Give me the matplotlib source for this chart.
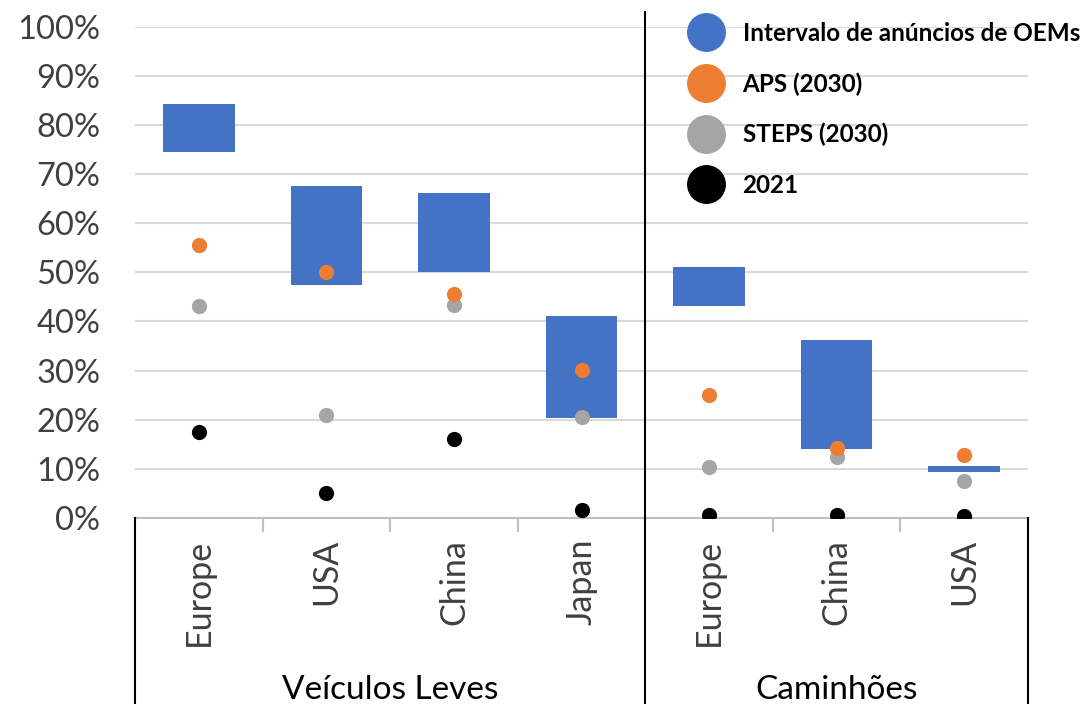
import matplotlib
matplotlib.use("Agg")
import matplotlib.pyplot as plt
from matplotlib.lines import Line2D
import numpy as np

plt.rcParams['font.family'] = ['Lato', 'DejaVu Sans']

# dados
categories = ['Europe', 'USA', 'China', 'Japan', 'Europe', 'China', 'USA']
groups = ['Veículos Leves', 'Caminhões']
group_sizes = [4, 3]
oem_low = [74.5, 47.4, 50.1, 20.3, 43.2, 14.0, 9.4]
oem_high = [84.3, 67.6, 66.2, 41.1, 51.0, 36.3, 10.6]
aps_2030 = [55.6, 50.1, 45.6, 30.1, 25.0, 14.2, 12.8]
steps_2030 = [43.1, 21.0, 43.3, 20.6, 10.3, 12.4, 7.5]
y2021 = [17.6, 5.0, 16.0, 1.6, 0.7, 0.7, 0.4]
yticks = [0, 10, 20, 30, 40, 50, 60, 70, 80, 90, 100]

c_blue = '#4472c4'
c_orange = '#ed7d31'
c_gray = '#a5a5a5'
c_black = '#000000'

fig = plt.figure(figsize=(10.91, 7.04), dpi=100)
ax = fig.add_axes([135/1091, 1 - 518/704, 893/1091, (518 - 26.7)/704])

x = np.arange(len(categories))
low = np.array(oem_low)
high = np.array(oem_high)
ax.bar(x, high - low, bottom=low, width=0.56, color=c_blue, zorder=2)
ax.scatter(x, y2021, s=120, color=c_black, zorder=3, linewidths=0)
ax.scatter(x, steps_2030, s=120, color=c_gray, zorder=4, linewidths=0)
ax.scatter(x, aps_2030, s=120, color=c_orange, zorder=5, linewidths=0)

ax.set_xlim(-0.5, len(categories) - 0.5)
ax.set_ylim(0, 100)
ax.set_yticks(yticks)
ax.set_yticklabels(['{}%'.format(v) for v in yticks])
ax.yaxis.grid(True, color='#d9d9d9', linewidth=1.5, zorder=0)
ax.set_axisbelow(True)
for s in ['top', 'right', 'left']:
    ax.spines[s].set_visible(False)
ax.spines['bottom'].set_color('#bfbfbf')
ax.spines['bottom'].set_linewidth(1.5)
ax.spines['bottom'].set_zorder(1)

ax.tick_params(axis='y', length=0, pad=25, labelsize=23.5, labelcolor='#404040')
ax.set_xticks(x)
ax.set_xticklabels(categories, rotation=90, va='top', ha='center')
ax.tick_params(axis='x', which='major', length=0, pad=15, labelsize=24.5, labelcolor='#404040')
ax.set_xticks([0.5, 1.5, 2.5, 4.5, 5.5], minor=True)
ax.tick_params(axis='x', which='minor', length=10, width=1.5, color='#bfbfbf', direction='out')

# linhas verticais dos grupos
trans = ax.get_xaxis_transform()
y_bot = -(704 - 518) / (518 - 26.7)
y_top = (518 - 12) / (518 - 26.7)
ax.plot([-0.5, -0.5], [0, y_bot], transform=trans, color='black', lw=1.5, clip_on=False)
ax.plot([6.5, 6.5], [0, y_bot], transform=trans, color='black', lw=1.5, clip_on=False)
ax.plot([3.5, 3.5], [y_top, y_bot], transform=trans, color='black', lw=1.5, clip_on=False, zorder=6)

start = -0.5
for g, n in zip(groups, group_sizes):
    ax.text(start + n / 2, -(690 - 518) / (518 - 26.7), g, transform=trans,
            ha='center', va='center', fontsize=24, color='black')
    start += n

handles = [
    Line2D([], [], marker='o', ls='', color=c_blue, markersize=27),
    Line2D([], [], marker='o', ls='', color=c_orange, markersize=27),
    Line2D([], [], marker='o', ls='', color=c_gray, markersize=27),
    Line2D([], [], marker='o', ls='', color=c_black, markersize=27),
]
labels = ['Intervalo de anúncios de OEMs', 'APS (2030)', 'STEPS (2030)', '2021']
leg = fig.legend(handles, labels, loc='upper left', bbox_to_anchor=(691/1091, 1 - 22/704),
                 frameon=False, borderpad=0, borderaxespad=0, handlelength=1.2,
                 handletextpad=0.92, labelspacing=1.12,
                 prop={'weight': 'bold', 'size': 17.5})
leg.set_zorder(10)

fig.savefig('out.png', dpi=100)
